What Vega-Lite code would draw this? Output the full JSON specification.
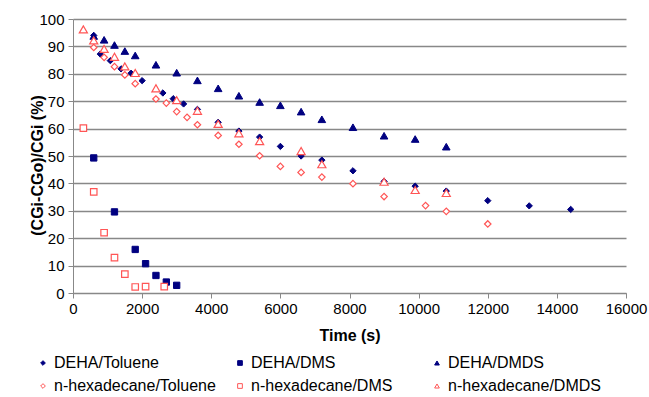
{
  "$schema": "https://vega.github.io/schema/vega-lite/v6.json",
  "width": 553,
  "height": 274,
  "autosize": {"type": "none"},
  "padding": {"left": 73, "top": 19, "right": 23, "bottom": 104},
  "background": "white",
  "config": {
    "view": {"stroke": null},
    "font": "Liberation Sans",
    "legend": {
      "symbolSize": 22, "symbolStrokeWidth": 1,
      "labelFontSize": 16, "labelFont": "Liberation Sans", "labelColor": "black",
      "labelOffset": 3, "columnPadding": 16, "rowPadding": 7, "labelLimit": 300, "gridAlign": "all"
    }
  },
  "data": {"values": [
    {"series": "DEHA/Toluene", "t": 600, "v": 94},
    {"series": "DEHA/Toluene", "t": 790, "v": 87.2},
    {"series": "DEHA/Toluene", "t": 1080, "v": 84.8},
    {"series": "DEHA/Toluene", "t": 1390, "v": 81.8},
    {"series": "DEHA/Toluene", "t": 1680, "v": 80.2},
    {"series": "DEHA/Toluene", "t": 2000, "v": 77.5},
    {"series": "DEHA/Toluene", "t": 2600, "v": 73},
    {"series": "DEHA/Toluene", "t": 2900, "v": 70.9},
    {"series": "DEHA/Toluene", "t": 3200, "v": 69},
    {"series": "DEHA/Toluene", "t": 3600, "v": 67},
    {"series": "DEHA/Toluene", "t": 4200, "v": 62.3},
    {"series": "DEHA/Toluene", "t": 4800, "v": 59.1},
    {"series": "DEHA/Toluene", "t": 5400, "v": 56.9},
    {"series": "DEHA/Toluene", "t": 6000, "v": 53.5},
    {"series": "DEHA/Toluene", "t": 6600, "v": 50},
    {"series": "DEHA/Toluene", "t": 7200, "v": 48.5},
    {"series": "DEHA/Toluene", "t": 8100, "v": 44.6},
    {"series": "DEHA/Toluene", "t": 9000, "v": 40.7},
    {"series": "DEHA/Toluene", "t": 9900, "v": 39},
    {"series": "DEHA/Toluene", "t": 10800, "v": 37.2},
    {"series": "DEHA/Toluene", "t": 12000, "v": 33.7},
    {"series": "DEHA/Toluene", "t": 13200, "v": 31.8},
    {"series": "DEHA/Toluene", "t": 14400, "v": 30.5},
    {"series": "DEHA/DMS", "t": 600, "v": 49.3},
    {"series": "DEHA/DMS", "t": 1200, "v": 29.6},
    {"series": "DEHA/DMS", "t": 1800, "v": 15.9},
    {"series": "DEHA/DMS", "t": 2100, "v": 10.7},
    {"series": "DEHA/DMS", "t": 2400, "v": 6.4},
    {"series": "DEHA/DMS", "t": 2700, "v": 4.0},
    {"series": "DEHA/DMS", "t": 3000, "v": 2.8},
    {"series": "DEHA/DMDS", "t": 600, "v": 93.8},
    {"series": "DEHA/DMDS", "t": 900, "v": 92.4},
    {"series": "DEHA/DMDS", "t": 1200, "v": 90.5},
    {"series": "DEHA/DMDS", "t": 1500, "v": 88.3},
    {"series": "DEHA/DMDS", "t": 1800, "v": 86.7},
    {"series": "DEHA/DMDS", "t": 2400, "v": 83.3},
    {"series": "DEHA/DMDS", "t": 3000, "v": 80.4},
    {"series": "DEHA/DMDS", "t": 3600, "v": 77.6},
    {"series": "DEHA/DMDS", "t": 4200, "v": 74.7},
    {"series": "DEHA/DMDS", "t": 4800, "v": 72},
    {"series": "DEHA/DMDS", "t": 5400, "v": 69.7},
    {"series": "DEHA/DMDS", "t": 6000, "v": 68.5},
    {"series": "DEHA/DMDS", "t": 6600, "v": 66.2},
    {"series": "DEHA/DMDS", "t": 7200, "v": 63.4},
    {"series": "DEHA/DMDS", "t": 8100, "v": 60.5},
    {"series": "DEHA/DMDS", "t": 9000, "v": 57.4},
    {"series": "DEHA/DMDS", "t": 9900, "v": 56.2},
    {"series": "DEHA/DMDS", "t": 10800, "v": 53.4},
    {"series": "n-hexadecane/Toluene", "t": 600, "v": 89.6},
    {"series": "n-hexadecane/Toluene", "t": 900, "v": 86},
    {"series": "n-hexadecane/Toluene", "t": 1200, "v": 82.6},
    {"series": "n-hexadecane/Toluene", "t": 1500, "v": 79.6},
    {"series": "n-hexadecane/Toluene", "t": 1800, "v": 76.4},
    {"series": "n-hexadecane/Toluene", "t": 2400, "v": 70.8},
    {"series": "n-hexadecane/Toluene", "t": 2700, "v": 69.3},
    {"series": "n-hexadecane/Toluene", "t": 3000, "v": 66.2},
    {"series": "n-hexadecane/Toluene", "t": 3300, "v": 64.1},
    {"series": "n-hexadecane/Toluene", "t": 3600, "v": 61.4},
    {"series": "n-hexadecane/Toluene", "t": 4200, "v": 57.5},
    {"series": "n-hexadecane/Toluene", "t": 4800, "v": 54.3},
    {"series": "n-hexadecane/Toluene", "t": 5400, "v": 50.1},
    {"series": "n-hexadecane/Toluene", "t": 6000, "v": 46.2},
    {"series": "n-hexadecane/Toluene", "t": 6600, "v": 44},
    {"series": "n-hexadecane/Toluene", "t": 7200, "v": 42.3},
    {"series": "n-hexadecane/Toluene", "t": 8100, "v": 39.9},
    {"series": "n-hexadecane/Toluene", "t": 9000, "v": 35.2},
    {"series": "n-hexadecane/Toluene", "t": 10200, "v": 31.9},
    {"series": "n-hexadecane/Toluene", "t": 10800, "v": 29.8},
    {"series": "n-hexadecane/Toluene", "t": 12000, "v": 25.2},
    {"series": "n-hexadecane/DMS", "t": 300, "v": 60.2},
    {"series": "n-hexadecane/DMS", "t": 600, "v": 36.9},
    {"series": "n-hexadecane/DMS", "t": 900, "v": 22},
    {"series": "n-hexadecane/DMS", "t": 1200, "v": 12.9},
    {"series": "n-hexadecane/DMS", "t": 1500, "v": 6.9},
    {"series": "n-hexadecane/DMS", "t": 1800, "v": 2.2},
    {"series": "n-hexadecane/DMS", "t": 2100, "v": 2.3},
    {"series": "n-hexadecane/DMS", "t": 2640, "v": 2.3},
    {"series": "n-hexadecane/DMDS", "t": 300, "v": 96.2},
    {"series": "n-hexadecane/DMDS", "t": 600, "v": 92.2},
    {"series": "n-hexadecane/DMDS", "t": 900, "v": 89.1},
    {"series": "n-hexadecane/DMDS", "t": 1200, "v": 86.2},
    {"series": "n-hexadecane/DMDS", "t": 1500, "v": 82.7},
    {"series": "n-hexadecane/DMDS", "t": 1800, "v": 80.3},
    {"series": "n-hexadecane/DMDS", "t": 2400, "v": 74.7},
    {"series": "n-hexadecane/DMDS", "t": 3000, "v": 70.4},
    {"series": "n-hexadecane/DMDS", "t": 3600, "v": 66.5},
    {"series": "n-hexadecane/DMDS", "t": 4200, "v": 61.7},
    {"series": "n-hexadecane/DMDS", "t": 4800, "v": 58.3},
    {"series": "n-hexadecane/DMDS", "t": 5400, "v": 55.4},
    {"series": "n-hexadecane/DMDS", "t": 6600, "v": 51.8},
    {"series": "n-hexadecane/DMDS", "t": 7200, "v": 47},
    {"series": "n-hexadecane/DMDS", "t": 9000, "v": 40.6},
    {"series": "n-hexadecane/DMDS", "t": 9900, "v": 37.6},
    {"series": "n-hexadecane/DMDS", "t": 10800, "v": 36.5}
  ]},
  "encoding": {
    "x": {
      "field": "t", "type": "quantitative",
      "scale": {"domain": [0, 16000]},
      "axis": {
        "values": [0, 2000, 4000, 6000, 8000, 10000, 12000, 14000, 16000],
        "format": "d",
        "title": "Time (s)",
        "grid": false,
        "titleFontSize": 16, "titleFontWeight": "bold", "titleColor": "black", "titleFont": "Liberation Sans",
        "titlePadding": 11,
        "labelFontSize": 15, "labelColor": "black", "labelFont": "Liberation Sans", "labelPadding": 3,
        "tickSize": 5, "tickColor": "#888888", "domainColor": "#888888", "labelFlush": false, "labelOverlap": false
      }
    },
    "y": {
      "field": "v", "type": "quantitative",
      "scale": {"domain": [0, 100]},
      "axis": {
        "values": [0, 10, 20, 30, 40, 50, 60, 70, 80, 90, 100],
        "title": "(CGi-CGo)/CGi (%)",
        "titleFontSize": 16, "titleFontWeight": "bold", "titleColor": "black", "titleFont": "Liberation Sans",
        "titleX": -28, "titleY": 146,
        "labelFontSize": 15, "labelColor": "black", "labelFont": "Liberation Sans", "labelPadding": 4,
        "tickSize": 5, "tickColor": "#888888", "domainColor": "#888888",
        "gridColor": "#888888", "gridWidth": 1.5, "labelFlush": false, "labelOverlap": false
      }
    },
    "shape": {
      "field": "series", "type": "nominal",
      "scale": {
        "domain": ["DEHA/Toluene", "DEHA/DMS", "DEHA/DMDS", "n-hexadecane/Toluene", "n-hexadecane/DMS", "n-hexadecane/DMDS"],
        "range": ["diamond", "square", "triangle-up", "diamond", "square", "triangle-up"]
      },
      "legend": {"title": null, "orient": "none", "legendX": -38, "legendY": 336, "direction": "horizontal", "columns": 3, "symbolSize": 22}
    },
    "fill": {
      "field": "series", "type": "nominal",
      "scale": {
        "domain": ["DEHA/Toluene", "DEHA/DMS", "DEHA/DMDS", "n-hexadecane/Toluene", "n-hexadecane/DMS", "n-hexadecane/DMDS"],
        "range": ["#000080", "#000080", "#000080", "#ffffff", "#ffffff", "#ffffff"]
      },
      "legend": {"title": null, "orient": "none", "legendX": -38, "legendY": 336, "direction": "horizontal", "columns": 3, "symbolSize": 22}
    },
    "stroke": {
      "field": "series", "type": "nominal",
      "scale": {
        "domain": ["DEHA/Toluene", "DEHA/DMS", "DEHA/DMDS", "n-hexadecane/Toluene", "n-hexadecane/DMS", "n-hexadecane/DMDS"],
        "range": ["#000080", "#000080", "#000080", "#ff5555", "#ff5555", "#ff5555"]
      },
      "legend": {"title": null, "orient": "none", "legendX": -38, "legendY": 336, "direction": "horizontal", "columns": 3, "symbolSize": 22}
    }
  },
  "layer": [
    {
      "transform": [{"filter": {"field": "series", "oneOf": ["DEHA/Toluene", "DEHA/DMS"]}}],
      "mark": {"type": "point", "filled": true, "strokeWidth": 1, "opacity": 1, "size": 40}
    },
    {
      "transform": [{"filter": {"field": "series", "equal": "DEHA/DMDS"}}],
      "mark": {"type": "point", "filled": true, "strokeWidth": 1, "opacity": 1, "size": 58}
    },
    {
      "transform": [{"filter": {"field": "series", "oneOf": ["n-hexadecane/Toluene", "n-hexadecane/DMS"]}}],
      "mark": {"type": "point", "filled": true, "strokeWidth": 1.2, "opacity": 1, "size": 42}
    },
    {
      "transform": [{"filter": {"field": "series", "equal": "n-hexadecane/DMDS"}}],
      "mark": {"type": "point", "filled": true, "strokeWidth": 1.2, "opacity": 1, "size": 66}
    }
  ]
}
